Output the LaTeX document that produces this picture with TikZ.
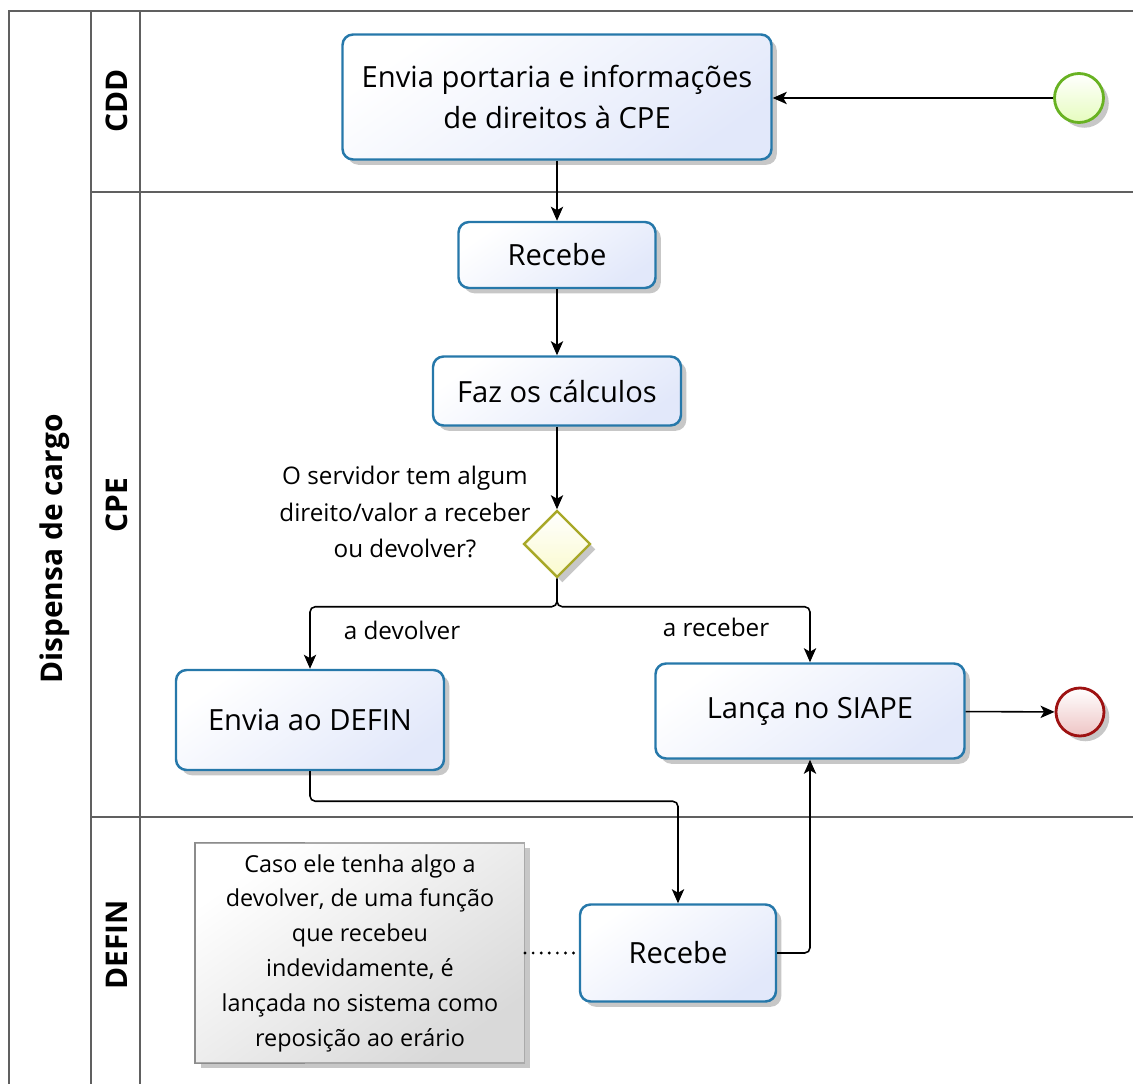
\documentclass[tikz,border=0pt]{standalone}
\usepackage{fontspec}
\setmainfont{Open Sans}
\usetikzlibrary{arrows.meta,shapes.geometric,shadows}

\definecolor{tskline}{RGB}{38,120,170}
\definecolor{tskfill}{RGB}{226,232,250}
\definecolor{gwline}{RGB}{168,168,40}
\definecolor{gwfill}{RGB}{250,250,205}
\definecolor{stline}{RGB}{104,178,34}
\definecolor{stfill}{RGB}{230,252,190}
\definecolor{endline}{RGB}{158,18,18}
\definecolor{endfill}{RGB}{238,196,196}
\definecolor{poolline}{RGB}{96,96,96}
\definecolor{noteline}{RGB}{170,170,170}

\tikzset{
  shd/.style={drop shadow={shadow xshift=3pt, shadow yshift=-3pt, opacity=.22, fill=black}},
  task/.style={draw=tskline, line width=1.4pt, rounded corners=6pt, align=center,
    top color=white, bottom color=tskfill, shading angle=35, shd,
    font=\fontsize{16.6}{23}\selectfont},
  gateway/.style={diamond, aspect=1, draw=gwline, line width=1.4pt, inner sep=0pt,
    top color=white, bottom color=gwfill, shd},
  event/.style={circle, line width=1.6pt, inner sep=0pt, shd},
  note/.style={draw=noteline, line width=.6pt, align=center,
    top color=white, bottom color=black!15, shading angle=35, shd,
    font=\fontsize{13.3}{19.8}\selectfont},
  lbl/.style={align=center, font=\fontsize{13.8}{21}\selectfont},
  lane/.style={rotate=90, font=\fontsize{17}{20}\selectfont\bfseries},
  pool/.style={draw=poolline, line width=1pt},
  flow/.style={line width=.9pt, rounded corners=3pt, -{Stealth[length=8pt,width=7pt,inset=2pt]}},
  assoc/.style={line width=1.8pt, line cap=round, dash pattern=on 0pt off 4.6pt}
}

\begin{document}
\begin{tikzpicture}[x=0.02cm, y=-0.02cm]

\newcommand\U{0.02cm}

\useasboundingbox (0,0) rectangle (1133,1084);
\clip (0,0) rectangle (1133,1084);

%% pool and lanes
\draw[pool] (9,11) rectangle (1150,1100);
\draw[pool] (91,11) -- (91,1100);
\draw[pool] (140,11) -- (140,1100);
\draw[pool] (91,192) -- (1150,192);
\draw[pool] (91,817) -- (1150,817);

\node[lane] (pname) at (55,549) {Dispensa de cargo};
\node[lane] (lcdd) at (117,101) {CDD};
\node[lane] (lcpe) at (117,505) {CPE};
\node[lane] (ldefin) at (117,945) {DEFIN};

%% activities
\node[task, minimum width=429*\U, minimum height=125*\U] (envia) at (557,97)
  {Envia portaria e informações\\de direitos à CPE};
\node[task, minimum width=197*\U, minimum height=66*\U] (recebe) at (557,255) {Recebe};
\node[task, minimum width=248*\U, minimum height=69*\U] (calculos) at (557,391) {Faz os cálculos};
\node[task, minimum width=268*\U, minimum height=100*\U] (envdefin) at (310,720) {Envia ao DEFIN};
\node[task, minimum width=309*\U, minimum height=95*\U] (lanca) at (810,711) {Lança no SIAPE};
\node[task, minimum width=196*\U, minimum height=97*\U] (recdefin) at (678,953) {Recebe};

%% gateway
\node[gateway, minimum size=67*\U] (gw) at (557,544) {};
\node[lbl] (gwtext) at (405,512) {O servidor tem algum\\direito/valor a receber\\ou devolver?};

%% events
\node[event, draw=stline, top color=white, bottom color=stfill, minimum size=49*\U] (inicio) at (1079,98) {};
\node[event, draw=endline, top color=white, bottom color=endfill, minimum size=48*\U] (fim) at (1080,712) {};

%% annotation
\node[note, minimum width=329*\U, minimum height=220*\U] (obs) at (360,953)
  {Caso ele tenha algo a\\devolver, de uma função\\que recebeu\\indevidamente, é\\lançada no sistema como\\reposição ao erário};
\draw[black!45, line width=.8pt] ([xshift=110*\U]obs.north west) -- (obs.north west)
  -- (obs.south west) -- ([xshift=110*\U]obs.south west);

%% sequence flows
\draw[flow] (inicio) -- (inicio -| envia.east);
\draw[flow] (envia) -- (recebe);
\draw[flow] (recebe) -- (calculos);
\draw[flow] (calculos) -- (gw);
\draw[flow] (gw.south) -- ++(0,28) -| (envdefin.north);
\draw[flow] (gw.south) -- ++(0,28) -| (lanca.north);
\draw[flow] (envdefin.south) -- ++(0,30) -| (recdefin.north);
\draw[flow] (recdefin.east) -| (lanca.south);
\draw[flow] (lanca) -- (fim);
\draw[assoc] (obs) -- (recdefin);

\node[lbl] (ldev) at (402,630) {a devolver};
\node[lbl] (lrec) at (716,627) {a receber};

\end{tikzpicture}
\end{document}
